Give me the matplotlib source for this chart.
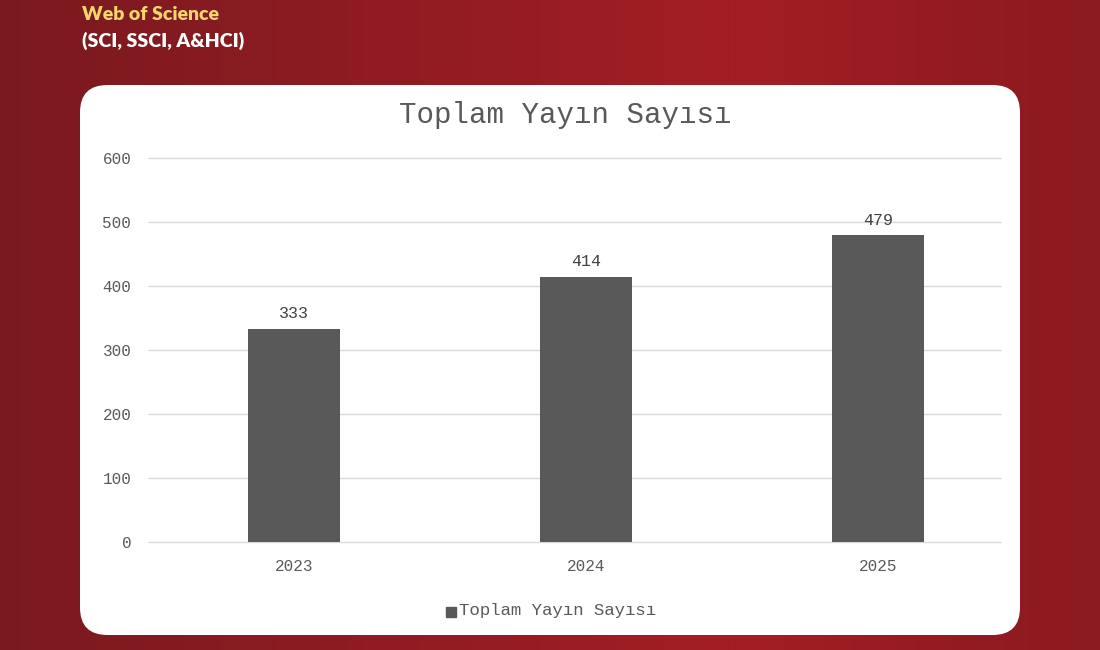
import numpy as np
import matplotlib.pyplot as plt
from matplotlib.patches import FancyBboxPatch
from matplotlib.colors import LinearSegmentedColormap

years = ['2023', '2024', '2025']
counts = [333, 414, 479]
y_ticks = [0, 100, 200, 300, 400, 500, 600]

mono = 'Liberation Mono'

fig = plt.figure(figsize=(11, 6.5), dpi=100)

# red gradient background
bg = fig.add_axes([0, 0, 1, 1])
grad = np.linspace(0, 1, 256)[None, :]
cmap = LinearSegmentedColormap.from_list('bg', ['#7a1a1f', '#8e1c22', '#a31e24', '#8a1a1f'])
bg.imshow(grad, aspect='auto', cmap=cmap, extent=[0, 1, 0, 1])
bg.set_xlim(0, 1)
bg.set_ylim(0, 1)
bg.axis('off')

# white rounded panel
panel = FancyBboxPatch((80 / 1100, 15 / 650), 940 / 1100, 550 / 650,
                       boxstyle='round,pad=0,rounding_size=0.025',
                       facecolor='white', edgecolor='none',
                       transform=bg.transAxes, mutation_aspect=1100 / 650)
bg.add_patch(panel)

fig.text(82 / 1100, 1 - 14 / 650, 'Web of Science', color='#f5d76e',
         fontsize=14, fontweight='heavy', family='Lato', va='center')
fig.text(82 / 1100, 1 - 41 / 650, '(SCI, SSCI, A&HCI)', color='white',
         fontsize=14, fontweight='heavy', family='Lato', va='center')

ax = fig.add_axes([148 / 1100, 1 - 542 / 650, 876 / 1100, 384 / 650])
x = np.arange(len(years))
ax.bar(x, counts, width=0.315, color='#595959', zorder=3)
for xi, v in zip(x, counts):
    ax.text(xi, v + 12, str(v), ha='center', va='bottom', family=mono,
            fontsize=12, color='#404040')

ax.set_ylim(0, 600)
ax.set_xlim(-0.5, 2.5)
ax.set_yticks(y_ticks)
ax.set_xticks(x)
ax.set_xticklabels(years)
ax.tick_params(length=0, labelsize=11.5, colors='#595959', pad=12)
for lbl in ax.get_xticklabels() + ax.get_yticklabels():
    lbl.set_family(mono)
# gridlines stop a little before the right edge of the panel
ax.hlines(y_ticks, -0.5, 2.42, color='#d9d9d9', linewidth=1, zorder=0, clip_on=False)
for s in ax.spines.values():
    s.set_visible(False)
ax.patch.set_alpha(0)

fig.text(565 / 1100, 1 - 115 / 650, 'Toplam Yayın Sayısı', ha='center', va='center',
         family=mono, fontsize=21, color='#595959')

fig.patches.append(plt.Rectangle((446 / 1100, 1 - 617 / 650), 10 / 1100, 10 / 650,
                                 color='#595959', transform=fig.transFigure, figure=fig))
fig.text(459 / 1100, 1 - 611 / 650, 'Toplam Yayın Sayısı', va='center',
         family=mono, fontsize=12.5, color='#595959')

fig.savefig('out.png', dpi=100)
